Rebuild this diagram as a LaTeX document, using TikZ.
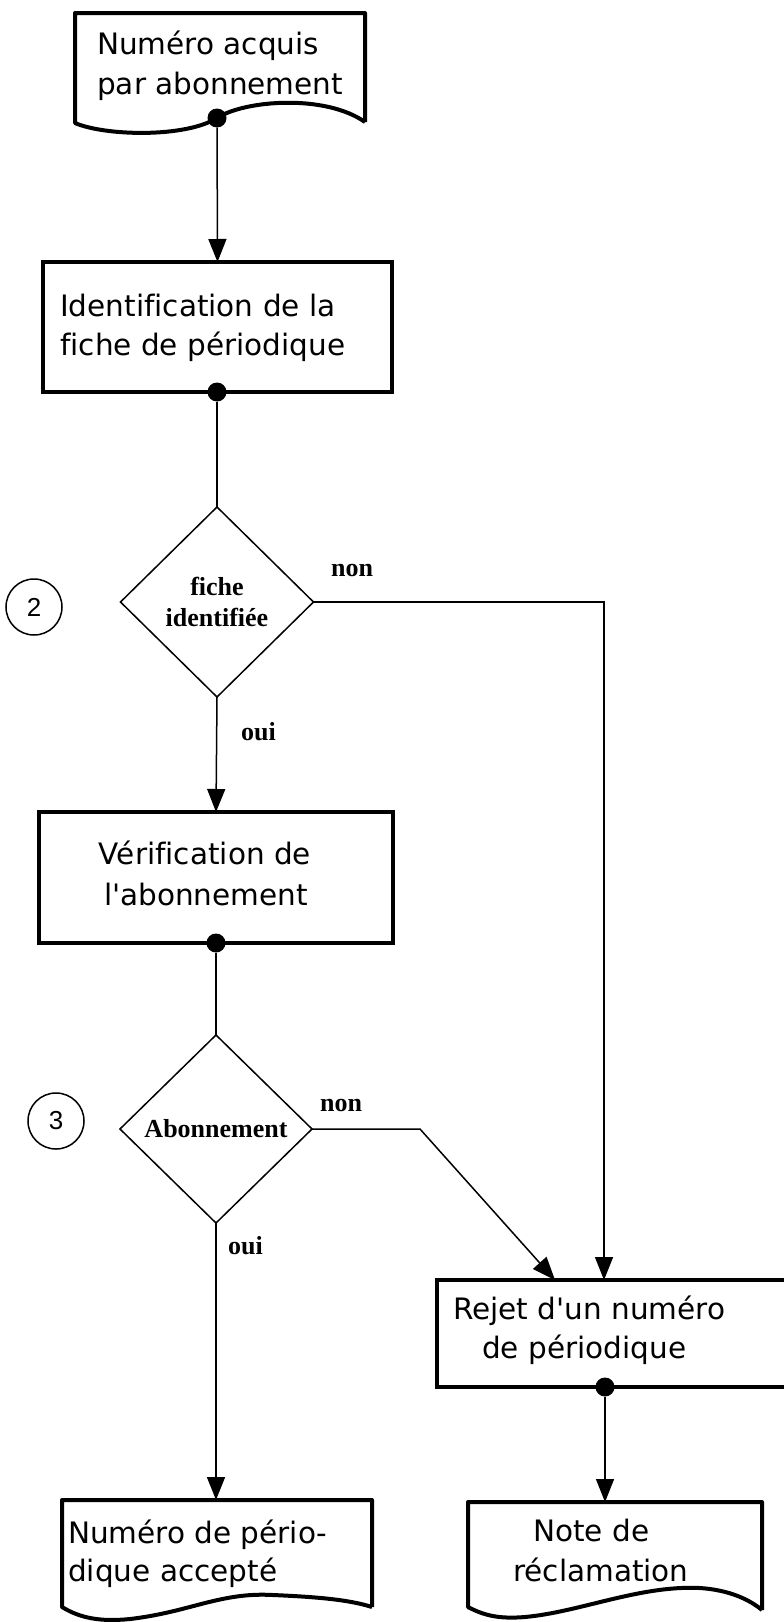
\documentclass[tikz,border=0pt]{standalone}
\usepackage{fontspec}
\setmainfont{DejaVu Sans}[Ligatures=NoCommon]
\newfontfamily\serifb{Liberation Serif}
\newfontfamily\digitf{Liberation Sans}
\usetikzlibrary{shapes.geometric,arrows.meta}
\begin{document}
\begin{tikzpicture}[x=1pt,y=-1pt,
  procbox/.style={draw, line width=4.5pt, inner sep=0pt, outer sep=0pt},
  docline/.style={line width=4pt, line join=round},
  decision/.style={draw, diamond, line width=1.5pt, inner sep=0pt, outer sep=0pt,
    font=\serifb\bfseries\fontsize{26}{31}\selectfont, align=center},
  boxtext/.style={font=\fontsize{29.5}{41}\selectfont, inner sep=0pt},
  lab/.style={font=\serifb\bfseries\fontsize{26}{30}\selectfont, inner sep=0pt},
  conn/.style={line width=1.5pt},
  arr/.style={conn, -{Triangle[length=23pt,width=18pt]}},
  dot/.style={circle, fill, inner sep=0pt, minimum size=19pt},
  numc/.style={circle, draw, line width=1.5pt, minimum size=56pt, inner sep=0pt,
    font=\digitf\fontsize{26}{30}\selectfont}
]
\fill[white] (0,0) rectangle (784,1622);
\useasboundingbox (0,0) rectangle (784,1622);

% Document 1 (top)
\draw[docline] (365,122) -- (365,13) -- (75,13) -- (75,123)
  .. controls (105,136) and (185,138) .. (217,118)
  .. controls (245,100) and (325,94) .. (365,122);
\node[boxtext, anchor=base west] (doc1a) at (97,54) {Numéro acquis};
\node[boxtext, anchor=base west] (doc1b) at (97,94) {par abonnement};
\node[dot] (d0) at (217,118) {};

% Box 1
\node[procbox, minimum width=349pt, minimum height=130pt] (b1) at (217.5,327) {};
\node[boxtext, anchor=base west] (b1a) at (60,316) {Identification de la};
\node[boxtext, anchor=base west] (b1b) at (60,355) {fiche de périodique};
\node[dot] (b1d) at (217,392) {};

% Decision 1
\node[decision, minimum width=193pt, minimum height=190pt] (dia1) at (217,602) {fiche\\identifiée};
\node[numc] (c2) at (34,607) {2};

% Box 2
\node[procbox, minimum width=354pt, minimum height=131pt] (b2) at (216,877.5) {};
\node[boxtext, anchor=base] (b2a) at (205,864) {Vérification de};
\node[boxtext, anchor=base] (b2b) at (206,905) {l\textquotesingle abonnement};
\node[dot] (b2d) at (216,943) {};

% Decision 2
\node[decision, minimum width=192pt, minimum height=188pt] (dia2) at (216,1129) {Abonnement};
\node[numc] (c3) at (56,1121) {3};

% Box 3 (runs past the right edge)
\draw[line width=4.5pt] (800,1280) -- (437,1280) -- (437,1387) -- (800,1387);
\node[boxtext, anchor=base west] (b3a) at (453,1319) {Rejet d\textquotesingle un numéro};
\node[boxtext, anchor=base west] (b3b) at (482,1358) {de périodique};
\node[dot] (b3d) at (605,1387) {};
\coordinate (b3in1) at (604,1280);
\coordinate (b3in2) at (555,1280);
\coordinate (bend2) at (420,1129);

% Document 2 (bottom left)
\draw[docline] (372,1607) -- (372,1500) -- (62,1500) -- (62,1607)
  .. controls (80,1618) and (100,1622) .. (130,1619)
  .. controls (190,1612) and (220,1592) .. (273,1595)
  .. controls (320,1597) and (350,1600) .. (372,1607);
\node[boxtext, anchor=base west] (doc2a) at (68,1543) {Numéro de pério-};
\node[boxtext, anchor=base west] (doc2b) at (68,1581) {dique accepté};
\coordinate (doc2top) at (216,1500);

% Document 3 (bottom right)
\draw[docline] (762,1610) -- (762,1502) -- (468,1502) -- (468,1607)
  .. controls (485,1616) and (500,1619) .. (525,1617)
  .. controls (580,1612) and (640,1585) .. (700,1588)
  .. controls (730,1590) and (750,1600) .. (762,1610);
\node[boxtext, anchor=base west] (doc3a) at (533,1541) {Note de};
\node[boxtext, anchor=base west] (doc3b) at (513,1581) {réclamation};
\coordinate (doc3top) at (605,1502);

% Connectors
\draw[arr] (d0) -- (b1.north);
\draw[conn] (b1d) -- (dia1.north);
\draw[arr] (dia1.south) -- (b2.north);
\draw[arr] (dia1.east) -| (b3in1);
\draw[conn] (b2d) -- (dia2.north);
\draw[arr] (dia2.east) -- (bend2) -- (b3in2);
\draw[arr] (dia2.south) -- (doc2top);
\draw[arr] (b3d) -- (doc3top);

% Labels
\node[lab, anchor=base west] (non1) at (331,576) {non};
\node[lab, anchor=base west] (oui1) at (241,740) {oui};
\node[lab, anchor=base west] (non2) at (320,1111) {non};
\node[lab, anchor=base west] (oui2) at (228,1254) {oui};
\end{tikzpicture}
\end{document}
